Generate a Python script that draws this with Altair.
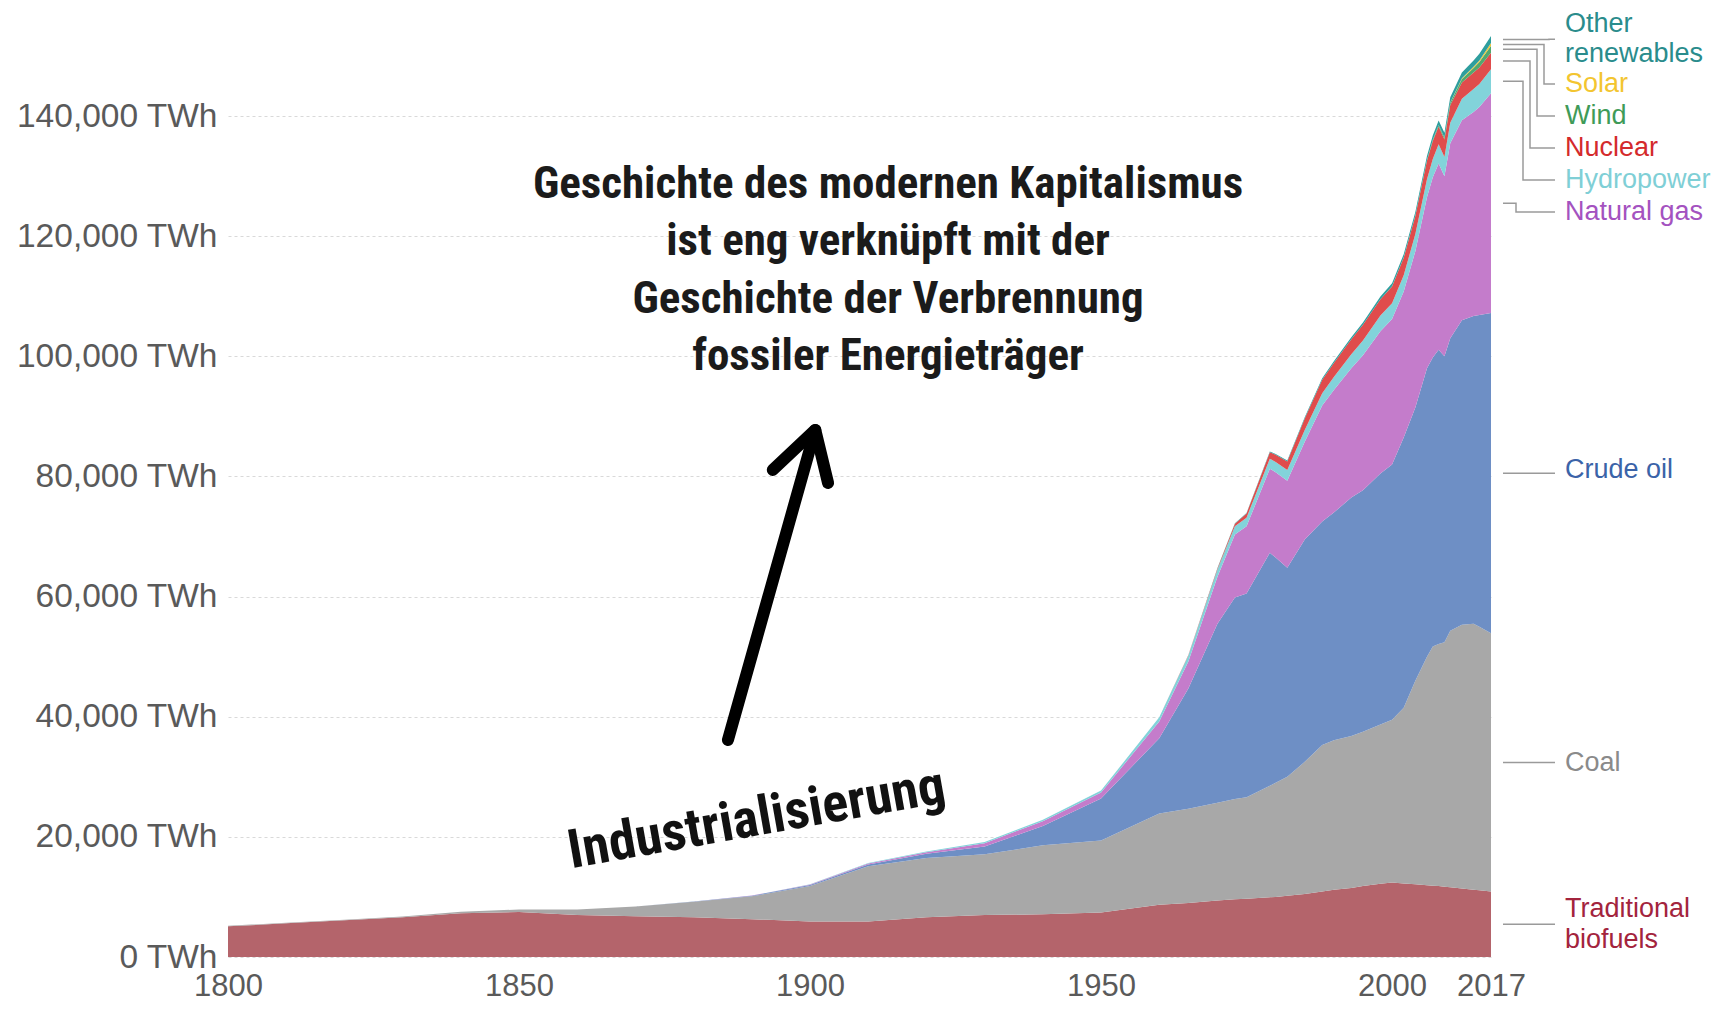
import altair as alt
import pandas as pd

YEARS = [1800, 1810, 1820, 1830, 1840, 1850, 1860, 1870, 1880, 1890, 1900, 1910, 1920, 1930, 1940, 1950,
         1960, 1965, 1970, 1973, 1975, 1979, 1980, 1982, 1985, 1988, 1990, 1993, 1995, 1998, 2000,
         2002, 2004, 2006, 2007, 2008, 2009, 2010, 2012, 2014, 2015, 2017]

TRAD = [5100, 5600, 6100, 6600, 7300, 7500, 7000, 6800, 6600, 6300, 5900, 5900, 6600, 7000, 7100, 7400,
        8700, 9000, 9400, 9600, 9700, 9950, 10000, 10200, 10500, 10900, 11200, 11500, 11800, 12200, 12400,
        12250, 12100, 11950, 11850, 11800, 11700, 11600, 11400, 11200, 11100, 10900]
COAL = [100, 100, 120, 150, 250, 400, 900, 1600, 2600, 3800, 5900, 9200, 9900, 10100, 11500, 12000,
        15200, 15700, 16300, 16700, 16900, 18550, 19000, 19800, 22000, 24400, 24900, 25300, 25700, 26500, 27100,
        29250, 33900, 38050, 39850, 40300, 40700, 42700, 43900, 44300, 43900, 43000]
OIL = [0, 0, 0, 0, 0, 0, 0, 10, 40, 100, 200, 300, 700, 1300, 3200, 7000,
       12500, 20000, 29800, 33550, 33900, 38800, 37500, 34800, 37000, 37200, 37900, 39700, 40200, 41800, 42500,
       45000, 45500, 48000, 48100, 49000, 47600, 48700, 50700, 51200, 51900, 53300]
GAS = [0, 0, 0, 0, 0, 0, 0, 0, 0, 20, 60, 150, 230, 550, 800, 1000,
       2800, 4500, 7800, 10500, 11200, 14000, 14200, 14500, 16300, 19300, 20400, 21500, 22500, 23700, 24200,
       24300, 26000, 28500, 30000, 31000, 30000, 32500, 33300, 34000, 34600, 36600]
HYDRO = [0, 0, 0, 0, 0, 0, 0, 0, 0, 0, 50, 100, 150, 200, 250, 300,
         700, 1000, 1200, 1350, 1450, 1650, 1700, 1800, 1950, 2050, 2150, 2350, 2450, 2600, 2650,
         2700, 2850, 3000, 3050, 3200, 3200, 3400, 3600, 3800, 3850, 4000]
NUCLEAR = [0, 0, 0, 0, 0, 0, 0, 0, 0, 0, 0, 0, 0, 0, 0, 0,
           10, 60, 200, 450, 700, 1100, 1200, 1400, 1900, 2250, 2350, 2500, 2600, 2700, 2800,
           2900, 3000, 3050, 3000, 2950, 2900, 2950, 2700, 2750, 2750, 2750]
WIND = [0, 0, 0, 0, 0, 0, 0, 0, 0, 0, 0, 0, 0, 0, 0, 0,
        0, 0, 0, 0, 0, 0, 0, 0, 0, 0, 0, 0, 0, 20, 40,
        60, 100, 150, 200, 250, 300, 380, 580, 750, 900, 1150]
SOLAR = [0, 0, 0, 0, 0, 0, 0, 0, 0, 0, 0, 0, 0, 0, 0, 0,
         0, 0, 0, 0, 0, 0, 0, 0, 0, 0, 0, 0, 0, 0, 0,
         0, 0, 0, 10, 20, 30, 40, 110, 200, 260, 450]
OTHER = [0, 0, 0, 0, 0, 0, 0, 0, 0, 0, 0, 0, 0, 0, 0, 0,
         0, 30, 50, 70, 80, 120, 130, 160, 200, 260, 300, 350, 380, 430, 470,
         520, 580, 650, 700, 750, 800, 850, 950, 1050, 1100, 1200]

SERIES = ["Traditional biofuels", "Coal", "Crude oil", "Natural gas", "Hydropower",
          "Nuclear", "Wind", "Solar", "Other renewables"]
VALUES = [TRAD, COAL, OIL, GAS, HYDRO, NUCLEAR, WIND, SOLAR, OTHER]
AREA_COLORS = ["#b4646b", "#a8a8a8", "#6e8fc5", "#c47ccb", "#82d3da",
               "#e04c4c", "#52a86e", "#f2c83a", "#2e9e9e"]

# right-hand labels (text, label centre in TWh, colour)
LABEL_TEXT = ["Other", "renewables", "Solar", "Wind", "Nuclear", "Hydropower", "Natural gas",
              "Crude oil", "Coal", "Traditional", "biofuels"]
LABEL_Y = [155300, 150300, 145350, 140000, 134700, 129370, 124050, 81000, 32300, 8000, 2900]
LABEL_COLOR = ["#2a8c8c", "#2a8c8c", "#f3c530", "#3f9b58", "#d42a2c", "#7fcfd6", "#a452c0",
               "#3b63a8", "#8a8a8a", "#a3243d", "#a3243d"]
# where each series' leader line meets its label (same order as SERIES); None = straight line
LEADER_TARGET = [None, None, None, 124050, 129370, 134700, 140000, 145350, 152800]

HEADLINE = ["Geschichte des modernen Kapitalismus", "ist eng verknüpft mit der",
            "Geschichte der Verbrennung", "fossiler Energieträger"]
HEADLINE_X = 1913.4
HEADLINE_Y = [126370, 116880, 107230, 97650]

W, H = 1263, 931
NARROW = ("Noto Sans Condensed, Noto Sans ExtraCondensed, Roboto Condensed, "
          "Liberation Sans Narrow, DejaVu Sans Condensed, Arial Narrow, sans-serif")
SANS = "Liberation Sans, Arial, Helvetica, sans-serif"

rows = []
for i, (s, vals) in enumerate(zip(SERIES, VALUES)):
    for yr, v in zip(YEARS, vals):
        rows.append({"year": yr, "series": s, "value": v, "ord": i})
df = pd.DataFrame(rows)

x_scale = alt.Scale(domain=[1800, 2017], nice=False, zero=False)
y_scale = alt.Scale(domain=[0, 155000], nice=False)
X_AXIS = alt.Axis(values=[1800, 1850, 1900, 1950, 2000, 2017], format="d", title=None,
                  grid=False, ticks=False, domain=False, labelFontSize=31, labelOverlap=False,
                  labelFlush=False, labelColor="#5a5a5a", labelPadding=14, labelFont=SANS,
                  labelLimit=300)
Y_AXIS = alt.Axis(values=list(range(0, 140001, 20000)),
                  labelExpr="format(datum.value, ',') + ' TWh'", title=None,
                  ticks=False, domain=False, grid=True, gridDash=[3, 3], labelLimit=400,
                  gridColor="#d9d9d9", gridWidth=1.2, labelFontSize=33.5, labelOverlap=False,
                  labelColor="#5a5a5a", labelPadding=11, labelFont=SANS)

areas = alt.Chart(df).mark_area(strokeWidth=0).encode(
    x=alt.X("year:Q", scale=x_scale, axis=X_AXIS),
    y=alt.Y("value:Q", stack="zero", scale=y_scale, axis=Y_AXIS),
    color=alt.Color("series:N", scale=alt.Scale(domain=SERIES, range=AREA_COLORS), legend=None),
    order=alt.Order("ord:Q", sort="ascending"),
)

# leader lines from the stack ends to the labels
last = [vals[-1] for vals in VALUES]
mids = []
cum = 0
for v in last:
    mids.append(cum + v / 2)
    cum += v
ELBOW = [W + 30, W + 30, W + 30, W + 25, W + 32, W + 39, W + 46, W + 53, W + 58]
lrows = []
for i, s in enumerate(SERIES):
    tgt = LEADER_TARGET[i] if LEADER_TARGET[i] is not None else mids[i]
    pts = [(W + 12, mids[i]), (ELBOW[i], mids[i]), (ELBOW[i], tgt), (W + 64, tgt)]
    for k, (px, val) in enumerate(pts):
        lrows.append({"series": s, "px": px, "val": val, "step": k})
ldf = pd.DataFrame(lrows)

leaders = alt.Chart(ldf).mark_line(color="#9a9a9a", strokeWidth=1.5).encode(
    x=alt.X("px:Q", scale=None),
    y=alt.Y("val:Q", scale=y_scale, axis=Y_AXIS),
    detail="series:N",
    order="step:Q",
)

labdf = pd.DataFrame({"text": LABEL_TEXT, "y": LABEL_Y, "color": LABEL_COLOR})
labels = alt.Chart(labdf).mark_text(align="left", baseline="middle", fontSize=27, font=SANS).encode(
    x=alt.value(W + 74),
    y=alt.Y("y:Q", scale=y_scale, axis=Y_AXIS),
    text="text:N",
    color=alt.Color("color:N", scale=None),
)

hdf = pd.DataFrame({"text": HEADLINE, "x": [HEADLINE_X] * 4, "y": HEADLINE_Y})
headline = alt.Chart(hdf).mark_text(align="center", baseline="alphabetic", fontSize=45,
                                    fontWeight="bold", font=NARROW, color="#1b1b1b").encode(
    x=alt.X("x:Q", scale=x_scale, axis=X_AXIS),
    y=alt.Y("y:Q", scale=y_scale, axis=Y_AXIS),
    text="text:N",
)

idf = pd.DataFrame({"text": ["Industrialisierung"], "x": [1891.3], "y": [20300]})
industrial = alt.Chart(idf).mark_text(align="center", baseline="alphabetic", fontSize=54, angle=350,
                                      fontWeight="bold", font=NARROW, color="#111111").encode(
    x=alt.X("x:Q", scale=x_scale, axis=X_AXIS),
    y=alt.Y("y:Q", scale=y_scale, axis=Y_AXIS),
    text="text:N",
)

ARROW_PART = ["shaft", "shaft", "head", "head", "head"]
ARROW_X = [1885.9, 1900.9, 1893.6, 1900.9, 1903.1]
ARROW_Y = [36130, 87750, 81090, 87750, 78920]
ARROW_STEP = [0, 1, 0, 1, 2]
adf = pd.DataFrame({"part": ARROW_PART, "x": ARROW_X, "y": ARROW_Y, "step": ARROW_STEP})
arrow = alt.Chart(adf).mark_line(color="#000000", strokeWidth=12, strokeCap="round",
                                 strokeJoin="round").encode(
    x=alt.X("x:Q", scale=x_scale, axis=X_AXIS),
    y=alt.Y("y:Q", scale=y_scale, axis=Y_AXIS),
    detail="part:N",
    order="step:Q",
)

chart = alt.layer(areas, leaders, labels, headline, industrial, arrow).properties(
    width=W, height=H,
    autosize=alt.AutoSizeParams(type="none"),
    padding={"left": 220, "top": 18, "right": 223, "bottom": 46},
    background="#ffffff",
).configure_view(stroke=None)

chart.save("out.html", embed_options={"renderer": "svg", "actions": False})
